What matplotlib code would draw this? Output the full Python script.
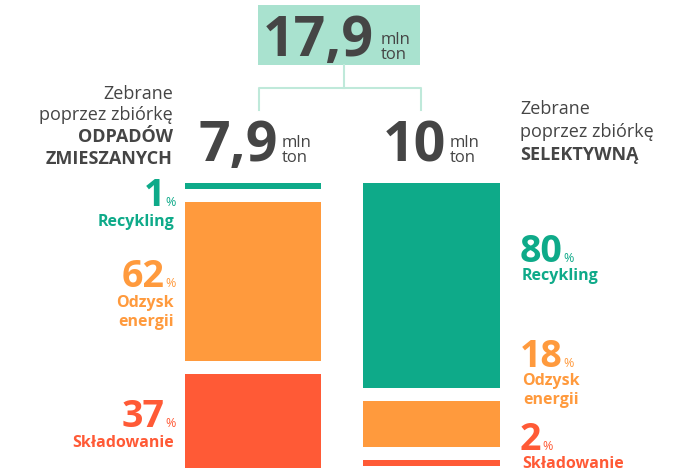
import matplotlib.pyplot as plt
from matplotlib.patches import Rectangle

plt.rcParams['font.family'] = ['Open Sans', 'DejaVu Sans']

# data
total = '17,9'
columns = ['ODPADÓW ZMIESZANYCH', 'SELEKTYWNĄ']
column_totals = ['7,9', '10']
categories = ['Recykling', 'Odzysk\nenergii', 'Składowanie']
left_pct = [1, 62, 37]
right_pct = [80, 18, 2]

colors = ['#0eaa89', '#ff9a3d', '#ff5a36']
dark = '#454545'
box_col = '#a9e2cf'
line_col = '#bfe9da'

W, H = 673, 471
fig = plt.figure(figsize=(W / 100, H / 100), dpi=100)
ax = fig.add_axes([0, 0, 1, 1])
ax.set_xlim(0, W)
ax.set_ylim(H, 0)
ax.axis('off')

# stacked bars with gaps, pixel scale
scale = 2.56
gap = 13
top = 183
min_h = 6


def draw_column(xc, width, pcts):
    y = top
    for p, c in zip(pcts, colors):
        h = max(p * scale, min_h)
        ax.bar(xc, h, width=width, bottom=y, color=c, linewidth=0)
        y += h + gap


draw_column(253, 136, left_pct)
draw_column(431.5, 137, right_pct)

# top box and connector
ax.add_patch(Rectangle((258, 5), 162, 60, color=box_col, lw=0))
ax.text(374, 56, total, fontsize=40, fontweight='bold', color=dark, ha='right', va='baseline')
ax.text(381, 44, 'mln', fontsize=12, color=dark, va='baseline')
ax.text(381, 59, 'ton', fontsize=12, color=dark, va='baseline')
ax.plot([344, 344], [65, 88], color=line_col, lw=1.5)
ax.plot([259, 259, 421, 421], [110, 88, 88, 110], color=line_col, lw=1.5)

# column totals
ax.text(278, 161, column_totals[0], fontsize=40, fontweight='bold', color=dark, ha='right', va='baseline')
ax.text(282, 147, 'mln', fontsize=12, color=dark, va='baseline')
ax.text(282, 162, 'ton', fontsize=12, color=dark, va='baseline')
ax.text(446, 161, column_totals[1], fontsize=40, fontweight='bold', color=dark, ha='right', va='baseline')
ax.text(450, 147, 'mln', fontsize=12, color=dark, va='baseline')
ax.text(450, 162, 'ton', fontsize=12, color=dark, va='baseline')

# column headers
ax.text(173, 99, 'Zebrane', fontsize=13, color=dark, ha='right', va='baseline')
ax.text(173, 120, 'poprzez zbiórkę', fontsize=13, color=dark, ha='right', va='baseline')
ax.text(173, 142, columns[0].split()[0], fontsize=13, fontweight='bold', color=dark, ha='right', va='baseline')
ax.text(173, 164, columns[0].split()[1], fontsize=13, fontweight='bold', color=dark, ha='right', va='baseline')
ax.text(520, 114, 'Zebrane', fontsize=13, color=dark, va='baseline')
ax.text(520, 137, 'poprzez zbiórkę', fontsize=13, color=dark, va='baseline')
ax.text(520, 160, columns[1], fontsize=13, fontweight='bold', color=dark, va='baseline')

# left annotations (right aligned)
left_num_y = [206, 287, 427]
for p, cat, c, ny in zip(left_pct, categories, colors, left_num_y):
    ax.text(165, ny, str(p), fontsize=27, fontweight='bold', color=c, ha='right', va='baseline')
    ax.text(176, ny, '%', fontsize=9, color=c, ha='right', va='baseline')
    ax.text(174, ny + 8, cat, fontsize=11.5, fontweight='bold', color=c, ha='right', va='top',
            linespacing=1.25, multialignment='right')

# right annotations (left aligned)
fig.canvas.draw()
r = fig.canvas.get_renderer()
right_num_y = [262, 367, 450]
for p, cat, c, ny in zip(right_pct, categories, colors, right_num_y):
    t = ax.text(520, ny, str(p), fontsize=27, fontweight='bold', color=c, va='baseline')
    bb = t.get_window_extent(renderer=r)
    x1 = ax.transData.inverted().transform((bb.x1, bb.y0))[0]
    ax.text(x1 + 1, ny, '%', fontsize=9, color=c, va='baseline')
    ax.text(522, ny + 6, cat, fontsize=11.5, fontweight='bold', color=c, va='top',
            linespacing=1.25, multialignment='center' if '\n' in cat else 'left')

fig.savefig('out.png', dpi=100)
